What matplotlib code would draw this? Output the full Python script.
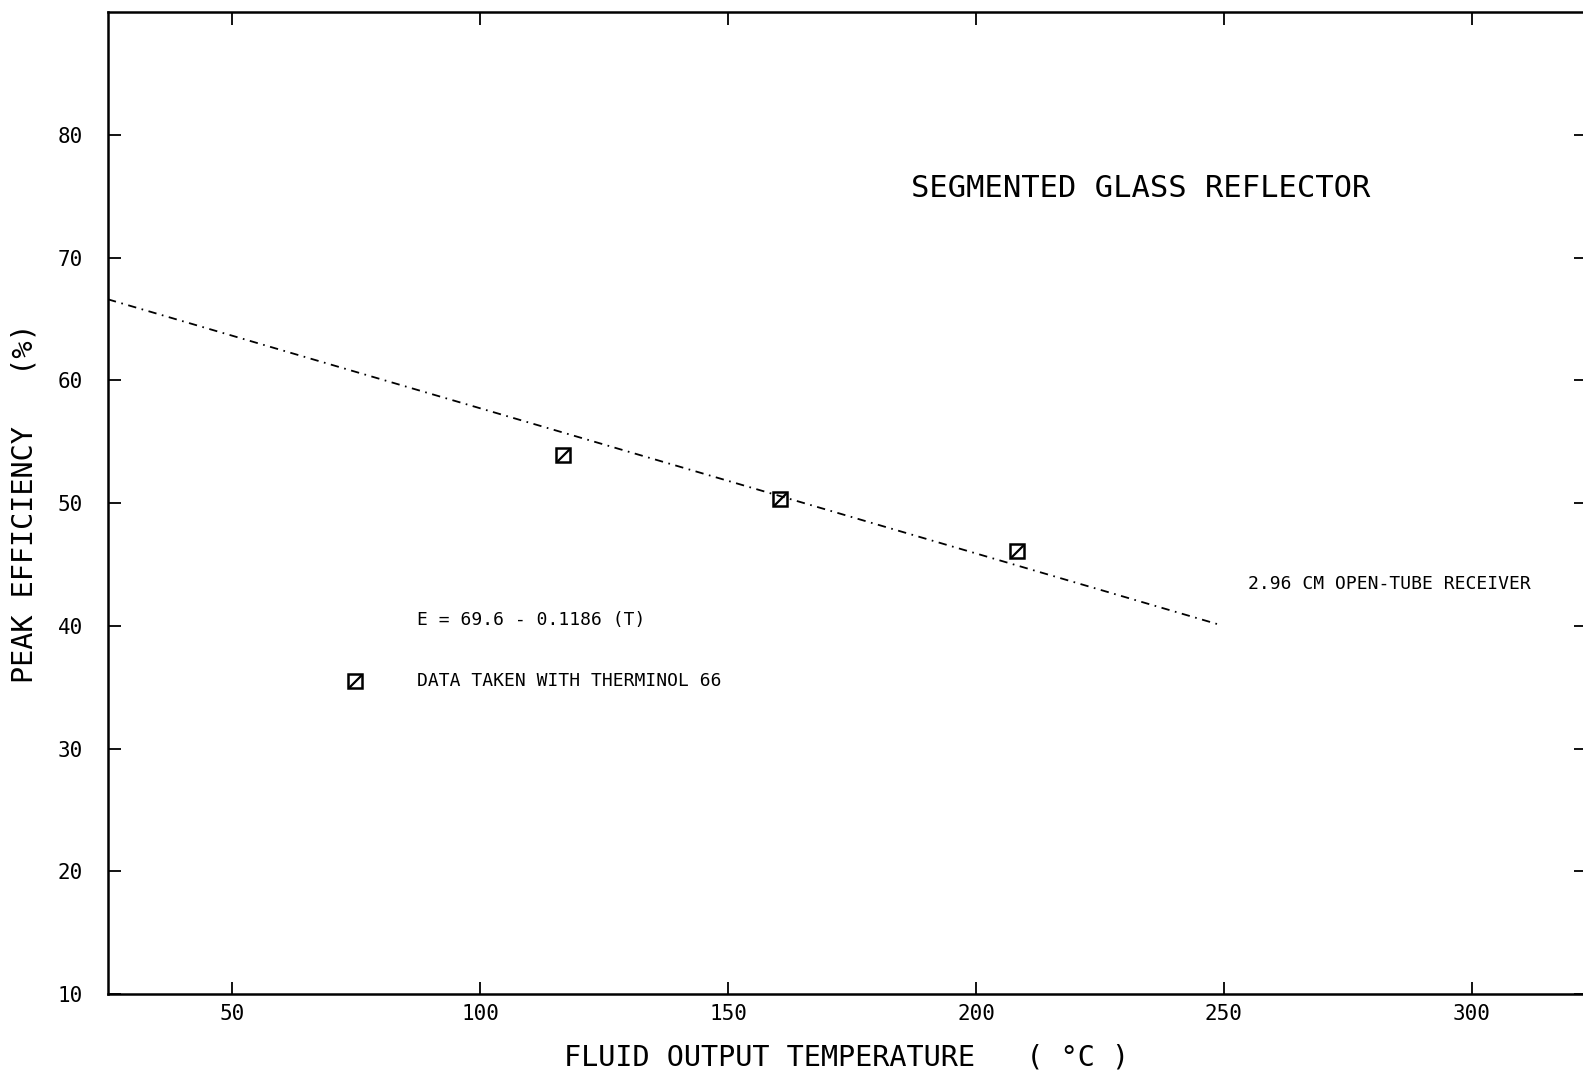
import matplotlib
matplotlib.use("Agg")
import matplotlib.pyplot as plt
from matplotlib.path import Path

plt.rcParams['font.family'] = ['DejaVu Sans Mono', 'DejaVu Sans']
plt.rcParams['lines.scale_dashes'] = False

# data
temps = [116.8, 160.5, 208.2]
effs = [53.9, 50.3, 46.1]
fit_x = [25, 249]
fit_y = [66.6, 40.1]
legend_pt_x = [74.8]
legend_pt_y = [35.5]
xticks = [50, 100, 150, 200, 250, 300]
yticks = [10, 20, 30, 40, 50, 60, 70, 80]

fig = plt.figure(figsize=(15.83, 10.74), dpi=100)
ax = fig.add_axes([0.0682, 0.0745, 0.9337, 0.9142])
ax.set_xlim(25, 323)
ax.set_ylim(10, 90)

ax.plot(fit_x, fit_y, color='black', lw=1.3, dashes=(6, 4, 1.2, 4))

slash = Path([(-0.45, -0.45), (0.45, 0.45)], [Path.MOVETO, Path.LINETO])
for xs, ys in [(temps, effs), (legend_pt_x, legend_pt_y)]:
    ax.plot(xs, ys, ls='none', marker='s', ms=10, mfc='none', mec='black', mew=1.8)
    ax.plot(xs, ys, ls='none', marker=slash, ms=9, mec='black', mew=1.6)

ax.set_xticks(xticks)
ax.set_yticks(yticks)
ax.tick_params(direction='in', top=True, right=True, length=9, width=1.3,
               labelsize=15)
ax.tick_params(axis='x', pad=7)
ax.tick_params(axis='y', pad=18)
for s in ax.spines.values():
    s.set_linewidth(1.8)

ax.set_xlabel('FLUID OUTPUT TEMPERATURE   ( °C )', fontsize=20.5, labelpad=14)
ax.set_ylabel('PEAK EFFICIENCY   (%)', fontsize=20.5, labelpad=14)

ax.text(187, 75.6, 'SEGMENTED GLASS REFLECTOR', fontsize=22, va='center', ha='left')
ax.text(87.3, 40.5, 'E = 69.6 - 0.1186 (T)', fontsize=13, va='center', ha='left')
ax.text(87.3, 35.5, 'DATA TAKEN WITH THERMINOL 66', fontsize=13, va='center', ha='left')
ax.text(254.8, 43.4, '2.96 CM OPEN-TUBE RECEIVER', fontsize=13, va='center', ha='left')

fig.savefig('out.png', dpi=100)
